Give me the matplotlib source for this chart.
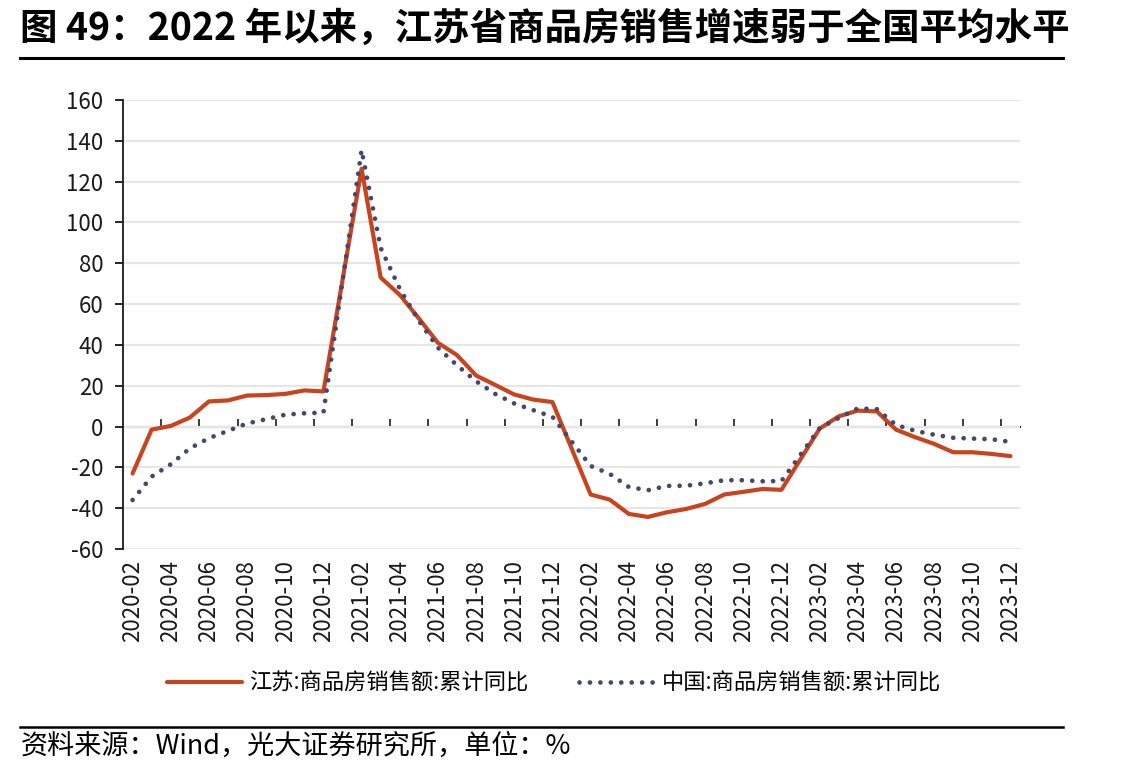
import matplotlib
matplotlib.use('Agg')
import matplotlib.pyplot as plt
import numpy as np

plt.rcParams['font.family'] = ['Noto Sans CJK SC', 'DejaVu Sans']
plt.rcParams['axes.unicode_minus'] = False

# 月份（1月无单独数据）
months = ['2020-02', '2020-03', '2020-04', '2020-05', '2020-06', '2020-07', '2020-08', '2020-09', '2020-10', '2020-11', '2020-12',
          '2021-02', '2021-03', '2021-04', '2021-05', '2021-06', '2021-07', '2021-08', '2021-09', '2021-10', '2021-11', '2021-12',
          '2022-02', '2022-03', '2022-04', '2022-05', '2022-06', '2022-07', '2022-08', '2022-09', '2022-10', '2022-11', '2022-12',
          '2023-02', '2023-03', '2023-04', '2023-05', '2023-06', '2023-07', '2023-08', '2023-09', '2023-10', '2023-11', '2023-12']

jiangsu = [-23, -1.5, 0.3, 4.4, 12.3, 12.8, 15.2, 15.4, 16.0, 17.7, 17.2,
           126.3, 73, 64.5, 53, 41, 35, 25, 20.4, 15.7, 13.2, 12,
           -33.3, -35.8, -42.8, -44.3, -42, -40.4, -37.9, -33.3, -32, -30.6, -31,
           -1, 5, 7.8, 7.4, -1.5, -5.2, -8.5, -12.6, -12.6, -13.4, -14.5]

china = [-36, -24.5, -18.5, -10.7, -5.7, -2.1, 1.5, 3.6, 5.8, 6.5, 6.8,
         135.5, 87.5, 67.5, 51.8, 38.6, 30, 22.2, 16, 11.3, 8, 4.8,
         -19.3, -23.2, -29.6, -31.2, -29.1, -29, -27.8, -26.3, -26.3, -26.8, -26.7,
         -0.8, 4.2, 8.9, 8.5, 0.8, -2.1, -4, -5.5, -5.9, -6.2, -7.5]

tick_labels = ['2020-02', '2020-04', '2020-06', '2020-08', '2020-10', '2020-12',
               '2021-02', '2021-04', '2021-06', '2021-08', '2021-10', '2021-12',
               '2022-02', '2022-04', '2022-06', '2022-08', '2022-10', '2022-12',
               '2023-02', '2023-04', '2023-06', '2023-08', '2023-10', '2023-12']

label_js = '江苏:商品房销售额:累计同比'
label_cn = '中国:商品房销售额:累计同比'


def month_index(s):
    y, m = s.split('-')
    return (int(y) - 2020) * 12 + int(m) - 2


x = np.array([month_index(m) for m in months])
xt = np.array([month_index(m) for m in tick_labels])
n_cat = month_index('2023-12') + 1

RED = '#C8441E'
NAVY = '#46466E'

fig = plt.figure(figsize=(11.35, 7.75), dpi=100)
ax = fig.add_axes([0.1084, 0.2916, 0.7903, 0.5794])

ax.plot(x, jiangsu, color=RED, lw=3.0, solid_capstyle='round', solid_joinstyle='round',
        label=label_js, zorder=3)
ax.plot(x, china, color=NAVY, lw=3.4, linestyle=(0, (0.01, 2.2)), dash_capstyle='round',
        label=label_cn, zorder=4)

ax.set_xlim(-0.5, n_cat - 0.5)
ax.set_ylim(-60, 160)
ax.set_yticks(np.arange(-60, 161, 20))
ax.yaxis.grid(True, color='#e6e6e6', lw=1.5)
ax.set_axisbelow(True)

ax.set_xticks(xt)
ax.set_xticklabels(tick_labels, rotation=90)
ax.tick_params(axis='x', length=0, pad=8, labelsize=16, labelcolor='#1a1a1a')
ax.tick_params(axis='y', direction='out', length=6, width=1.2, pad=8, labelsize=16,
               labelcolor='#1a1a1a')

for s in ['top', 'right', 'bottom']:
    ax.spines[s].set_visible(False)
ax.spines['left'].set_linewidth(1.3)
ax.spines['left'].set_color('#1a1a1a')

# 0 轴及刻度线
sec = ax.secondary_xaxis(0, transform=ax.transData)
sec.set_xticks(np.arange(1.5, n_cat - 1, 2))
sec.tick_params(direction='in', length=6, width=1.2, labelbottom=False, color='#1a1a1a')
sec.spines['bottom'].set_linewidth(1.5)
sec.spines['bottom'].set_color('#1a1a1a')

fig.legend(loc='center', bbox_to_anchor=(0.488, 0.118), ncol=2, frameon=False,
           fontsize=16, handlelength=3.4, handletextpad=0.3, columnspacing=2.3)

fig.text(0.018, 0.963, '图 49：2022 年以来，江苏省商品房销售增速弱于全国平均水平',
         fontsize=27, fontweight='bold', va='center', ha='left')
fig.add_artist(plt.Line2D([0.018, 0.937], [0.925, 0.925], color='black', lw=2.2))
fig.add_artist(plt.Line2D([0.018, 0.937], [0.062, 0.062], color='black', lw=1.8))
fig.text(0.018, 0.037, '资料来源：Wind，光大证券研究所，单位：%', fontsize=19.5,
         va='center', ha='left')

fig.savefig('out.png', dpi=100)
